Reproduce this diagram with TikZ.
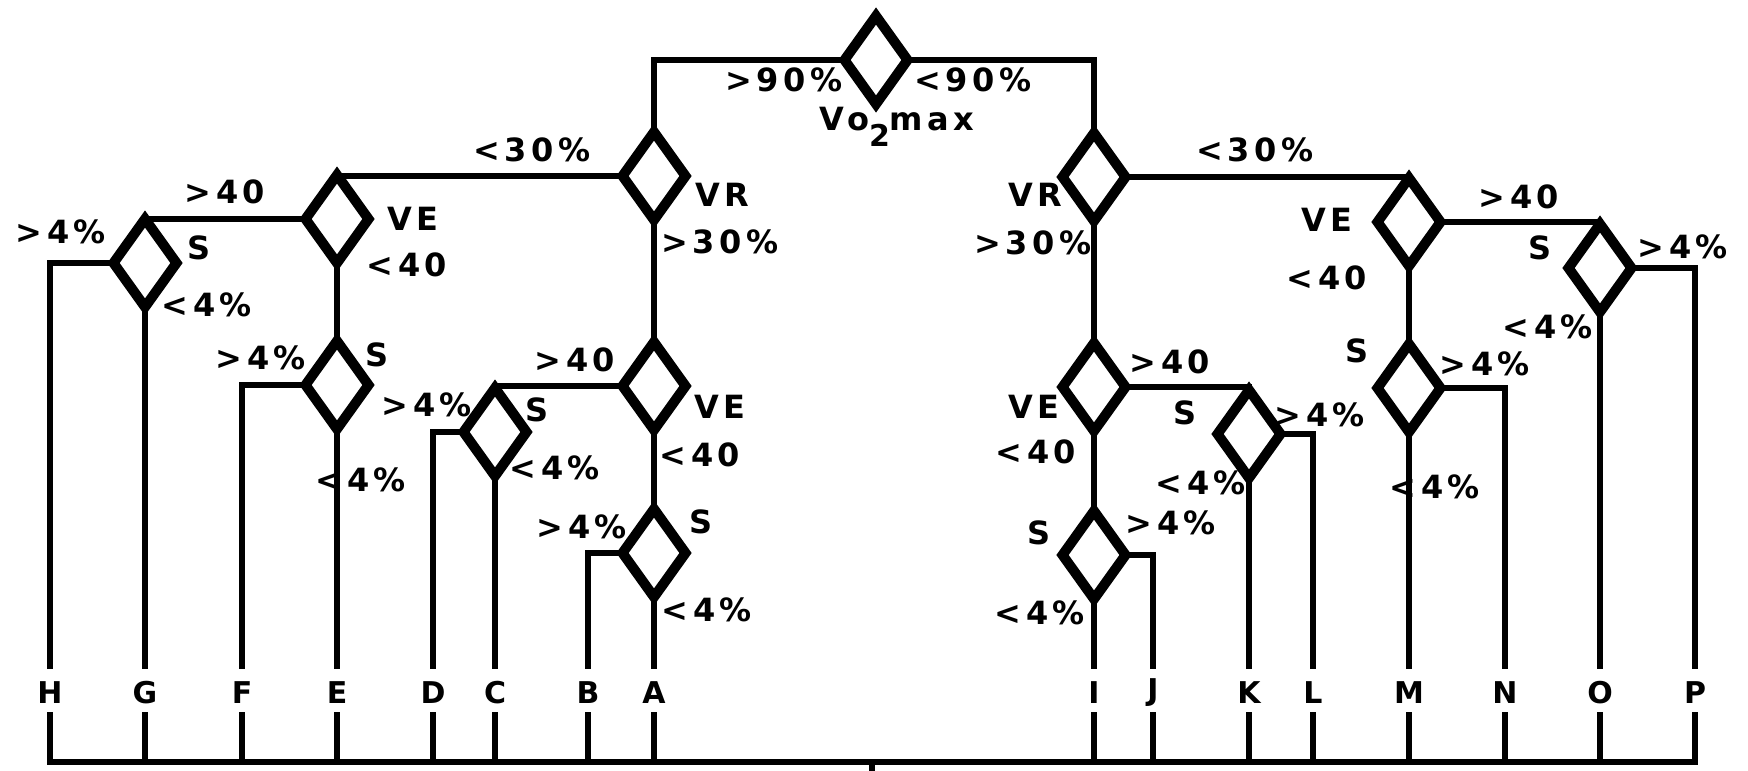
\documentclass[tikz,border=0pt]{standalone}
\usepackage{fontspec}
\usetikzlibrary{shapes.geometric}
\newfontfamily\lblfont{DejaVu Sans}[LetterSpace=14]
\pgfdeclarelayer{wires}
\pgfsetlayers{wires,main}
\begin{document}
\begin{tikzpicture}[x=0.5pt,y=-0.5pt,
  dia/.style={draw, diamond, fill=white, line width=5pt,
    minimum width=31.5pt, minimum height=44pt, inner sep=0pt, outer sep=0pt},
  wire/.style={line width=3pt},
  lbl/.style={font=\lblfont\bfseries\fontsize{16}{16}\selectfont, inner sep=0pt},
  leaf/.style={font=\lblfont\bfseries\fontsize{15}{15}\selectfont, inner sep=0pt}]
\useasboundingbox (0,0) rectangle (1748,770);

% decision diamonds
\node[dia] (T)   at (876,60)  {};
\node[dia] (VRl) at (654,176) {};
\node[dia] (VRr) at (1094,177) {};
\node[dia] (VEa) at (337,219) {};
\node[dia] (VEb) at (654,386) {};
\node[dia] (VEc) at (1094,387) {};
\node[dia] (VEd) at (1409,222) {};
\node[dia] (Sgh) at (145,263) {};
\node[dia] (Sef) at (337,385) {};
\node[dia] (Scd) at (495,432) {};
\node[dia] (Sab) at (654,553) {};
\node[dia] (Sij) at (1094,555) {};
\node[dia] (Skl) at (1249,434) {};
\node[dia] (Smn) at (1409,388) {};
\node[dia] (Sop) at (1600,268) {};

% outcome letters and their line ends
\foreach \n/\x in {H/50,G/145,F/242,E/337,D/433,C/495,B/588,A/654,
                   I/1094,J/1153,K/1249,L/1313,M/1409,N/1505,O/1600,P/1695}{
  \coordinate (t\n) at (\x,669);
  \node[leaf] (\n) at (\x,693) {\n};
  \coordinate (u\n) at (\x,712);
  \coordinate (b\n) at (\x,762);
}
\coordinate (stub) at (872,762);

\begin{pgfonlayer}{wires}
% tree connectors
\draw[wire] (T.west) -| (VRl.north);
\draw[wire] (T.east) -| (VRr.north);
\draw[wire] (VRl.west) -| (VEa.north);
\draw[wire] (VRl.south) -- (VEb.north);
\draw[wire] (VRr.east) -| (VEd.north);
\draw[wire] (VRr.south) -- (VEc.north);
\draw[wire] (VEa.west) -| (Sgh.north);
\draw[wire] (VEa.south) -- (Sef.north);
\draw[wire] (VEb.west) -| (Scd.north);
\draw[wire] (VEb.south) -- (Sab.north);
\draw[wire] (VEc.east) -| (Skl.north);
\draw[wire] (VEc.south) -- (Sij.north);
\draw[wire] (VEd.east) -| (Sop.north);
\draw[wire] (VEd.south) -- (Smn.north);
% branches down to the outcomes
\draw[wire] (Sgh.west) -| (tH);  \draw[wire] (Sgh.south) -- (tG);
\draw[wire] (Sef.west) -| (tF);  \draw[wire] (Sef.south) -- (tE);
\draw[wire] (Scd.west) -| (tD);  \draw[wire] (Scd.south) -- (tC);
\draw[wire] (Sab.west) -| (tB);  \draw[wire] (Sab.south) -- (tA);
\draw[wire] (Sij.south) -- (tI); \draw[wire] (Sij.east) -| (tJ);
\draw[wire] (Skl.south) -- (tK); \draw[wire] (Skl.east) -| (tL);
\draw[wire] (Smn.south) -- (tM); \draw[wire] (Smn.east) -| (tN);
\draw[wire] (Sop.south) -- (tO); \draw[wire] (Sop.east) -| (tP);
% collecting line along the bottom
\draw[wire] (uH) -- (bH) -- (bP) -- (uP);
\foreach \n in {G,F,E,D,C,B,A,I,J,K,L,M,N,O}{\draw[wire] (u\n) -- (b\n);}
\draw[wire] (stub) -- ++(0,12);
\end{pgfonlayer}

% branch labels
\node[lbl] (k1) at (784,80) {>90\%};
\node[lbl] (k2) at (973,80) {<90\%};
\node[lbl] (k3) at (897,127) {Vo{\fontsize{15}{15}\selectfont\raisebox{-8pt}{2}}max};
\node[lbl] (k4) at (532,150) {<30\%};
\node[lbl] (k5) at (722,195) {VR};
\node[lbl] (k6) at (720,242) {>30\%};
\node[lbl] (k7) at (1255,150) {<30\%};
\node[lbl] (k8) at (1035,195) {VR};
\node[lbl] (k9) at (1033,243) {>30\%};
\node[lbl] (k10) at (225,192) {>40};
\node[lbl] (k11) at (413,219) {VE};
\node[lbl] (k12) at (407,265) {<40};
\node[lbl] (k13) at (61,232) {>4\%};
\node[lbl] (k14) at (199,248) {S};
\node[lbl] (k15) at (207,305) {<4\%};
\node[lbl] (k16) at (261,358) {>4\%};
\node[lbl] (k17) at (377,355) {S};
\node[lbl] (k18) at (361,480) {<4\%};
\node[lbl] (k19) at (575,360) {>40};
\node[lbl] (k20) at (720,407) {VE};
\node[lbl] (k21) at (700,455) {<40};
\node[lbl] (k22) at (427,405) {>4\%};
\node[lbl] (k23) at (537,410) {S};
\node[lbl] (k24) at (555,468) {<4\%};
\node[lbl] (k25) at (582,527) {>4\%};
\node[lbl] (k26) at (701,522) {S};
\node[lbl] (k27) at (707,610) {<4\%};
\node[lbl] (k28) at (1170,362) {>40};
\node[lbl] (k29) at (1034,407) {VE};
\node[lbl] (k30) at (1036,452) {<40};
\node[lbl] (k31) at (1185,413) {S};
\node[lbl] (k32) at (1320,415) {>4\%};
\node[lbl] (k33) at (1201,483) {<4\%};
\node[lbl] (k34) at (1039,533) {S};
\node[lbl] (k35) at (1171,523) {>4\%};
\node[lbl] (k36) at (1040,613) {<4\%};
\node[lbl] (k37) at (1327,220) {VE};
\node[lbl] (k38) at (1327,278) {<40};
\node[lbl] (k39) at (1519,197) {>40};
\node[lbl] (k40) at (1540,248) {S};
\node[lbl] (k41) at (1683,247) {>4\%};
\node[lbl] (k42) at (1548,327) {<4\%};
\node[lbl] (k43) at (1357,351) {S};
\node[lbl] (k44) at (1485,364) {>4\%};
\node[lbl] (k45) at (1435,487) {<4\%};
\end{tikzpicture}
\end{document}
